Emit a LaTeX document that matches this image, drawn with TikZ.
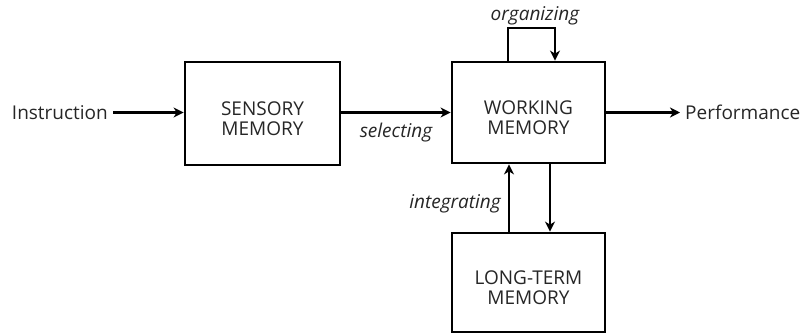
\documentclass[tikz,border=0pt]{standalone}
\usepackage{fontspec}
\setmainfont{Open Sans}
\usetikzlibrary{arrows.meta}
\newcommand{\boxstrut}{\rule{0pt}{24pt}}

\begin{document}
\begin{tikzpicture}[
  x=1pt, y=-1pt,
  store/.style={draw=black, line width=2.8pt, minimum width=153pt, minimum height=101pt, align=center, inner sep=0pt, text=black!85, font=\fontsize{19}{20}\selectfont},
  term/.style={text=black!85, inner sep=5pt, font=\fontsize{19}{20}\selectfont},
  verb/.style={text=black!85, inner sep=0pt, font=\fontsize{19}{20}\selectfont\itshape},
  flow/.style={draw=black, line width=2.4pt, -{Stealth[length=10pt, width=10pt, inset=3pt]}}
]
\useasboundingbox (0,0) rectangle (808,333);

%% MEMORY STORES
\node[store, minimum width=155pt, minimum height=103pt] (sensory) at (262.5,113.5) {\boxstrut SENSORY\\MEMORY};
\node[store] (working) at (528.5,112.5) {\boxstrut WORKING\\MEMORY};
\node[store, minimum height=99pt] (longterm) at (528.5,282.5) {\boxstrut LONG-TERM\\MEMORY};

% Input and output
\node[term, anchor=east] (instruction) at (113,112.5) {Instruction};
\node[term, anchor=west] (performance) at (680,112.5) {Performance};

%% PROCESSES
\draw[flow] (instruction.east) -- (sensory.west |- instruction.east);
\draw[flow] (sensory.east |- working.west) -- (working.west)
  node[verb, midway, below=9pt] (selecting) {selecting};
\draw[flow] (working.east) -- (performance.west);

% Organizing loop on top of working memory
\coordinate (org_l) at (508,28);
\coordinate (org_r) at (555,28);
\draw[flow] (working.north -| org_l) -- (org_l) -- (org_r) -- (working.north -| org_r);
\node[verb] (organizing) at (535,16) {organizing};

% Between working and long-term memory
\coordinate (int_x) at (509,0);
\coordinate (ret_x) at (550,0);
\draw[flow] (longterm.north -| int_x) -- (working.south -| int_x)
  node[verb, pos=0.42, left=7pt] (integrating) {integrating};
\draw[flow] (working.south -| ret_x) -- (longterm.north -| ret_x);

\end{tikzpicture}
\end{document}
